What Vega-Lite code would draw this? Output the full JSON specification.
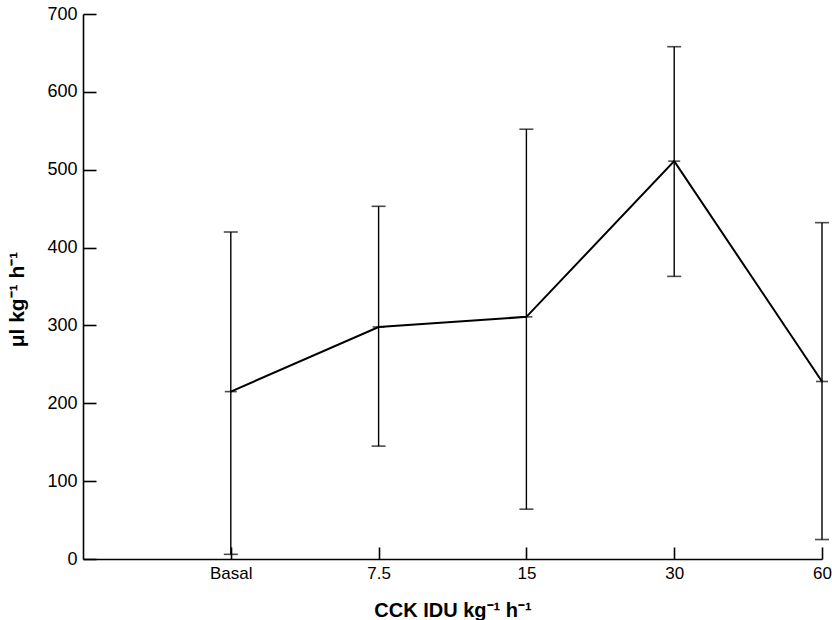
{
  "$schema": "https://vega.github.io/schema/vega-lite/v6.json",
  "width": 739,
  "height": 545,
  "autosize": {"type": "none"},
  "padding": {"left": 83, "top": 14, "right": 10, "bottom": 61},
  "background": "white",
  "config": {
    "view": {"stroke": null},
    "font": "Liberation Sans",
    "axis": {
      "grid": false,
      "domainColor": "black",
      "domainWidth": 1.6,
      "tickColor": "black",
      "tickWidth": 1.6,
      "labelColor": "black",
      "labelFont": "Liberation Sans",
      "labelFontSize": 17,
      "titleColor": "black",
      "titleFont": "Liberation Sans",
      "titleFontWeight": "bold",
      "titleFontSize": 20
    }
  },
  "data": {
    "values": [
      {"dose": "Basal", "mean": 215, "lo": 6, "hi": 420},
      {"dose": "7.5", "mean": 298, "lo": 145, "hi": 453},
      {"dose": "15", "mean": 311, "lo": 64, "hi": 552},
      {"dose": "30", "mean": 511, "lo": 363, "hi": 658},
      {"dose": "60", "mean": 228, "lo": 25, "hi": 432}
    ]
  },
  "encoding": {
    "x": {
      "field": "dose",
      "type": "ordinal",
      "scale": {"type": "point", "domain": ["", "Basal", "7.5", "15", "30", "60"], "padding": 0},
      "axis": {
        "values": ["Basal", "7.5", "15", "30", "60"],
        "title": "CCK IDU kg⁻¹ h⁻¹",
        "labelAngle": 0,
        "tickSize": -12,
        "labelPadding": 18,
        "titleY": 57,
        "titleBaseline": "alphabetic"
      }
    }
  },
  "layer": [
    {
      "mark": {"type": "rule", "color": "black", "strokeWidth": 1.4},
      "encoding": {
        "y": {
          "field": "lo",
          "type": "quantitative",
          "scale": {"domain": [0, 700], "nice": false},
          "axis": {
            "values": [0, 100, 200, 300, 400, 500, 600, 700],
            "title": "μl kg⁻¹ h⁻¹",
            "titleFontSize": 21,
            "labelFontSize": 18,
            "tickSize": -13,
            "labelPadding": 19,
            "titleAngle": -90,
            "titleX": -66,
            "titleY": 285,
            "titleBaseline": "middle",
            "titleAlign": "center"
          }
        },
        "y2": {"field": "hi"}
      }
    },
    {
      "mark": {"type": "tick", "color": "black", "size": 14, "thickness": 1.6},
      "encoding": {"y": {"field": "lo", "type": "quantitative"}}
    },
    {
      "mark": {"type": "tick", "color": "black", "size": 14, "thickness": 1.6},
      "encoding": {"y": {"field": "hi", "type": "quantitative"}}
    },
    {
      "mark": {"type": "tick", "color": "black", "size": 12, "thickness": 1.6},
      "encoding": {"y": {"field": "mean", "type": "quantitative"}}
    },
    {
      "mark": {"type": "line", "color": "black", "strokeWidth": 2},
      "encoding": {"y": {"field": "mean", "type": "quantitative"}}
    }
  ]
}
